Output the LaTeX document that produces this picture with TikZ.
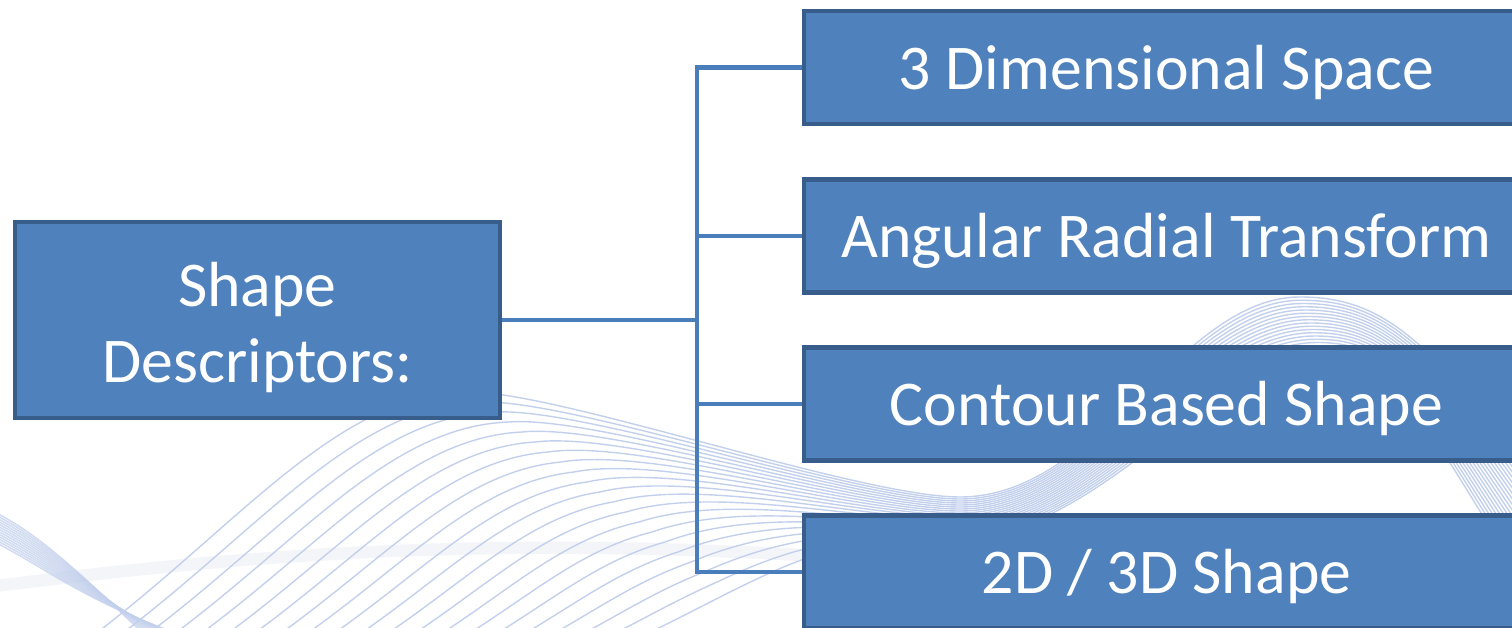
\documentclass[tikz,border=0pt]{standalone}
\usepackage{fontspec}
\setmainfont{Carlito}
\definecolor{boxfill}{HTML}{4F81BD}
\definecolor{boxline}{HTML}{385D8A}
\definecolor{linkcol}{HTML}{4A7EBB}
\definecolor{wavecol}{HTML}{C3D0EC}
\definecolor{hazecol}{HTML}{F3F5F9}
\tikzset{
  topic/.style={draw=boxline, fill=boxfill, line width=2.3pt, text=white,
    inner sep=0pt, minimum height=113*0.02cm, align=center,
    font=\fontsize{36.3}{43.2}\selectfont},
  leaf/.style={topic, minimum width=725*0.02cm, text height=31pt, text depth=6.3pt},
  rootbox/.style={topic, minimum width=485*0.02cm, minimum height=196*0.02cm},
  link/.style={draw=linkcol, line width=2.8pt},
  wave/.style={draw=wavecol, line width=0.8pt},
  band/.style={draw=wavecol, line width=0.9pt, opacity=0.75},
}
\begin{document}
\begin{tikzpicture}[x=0.02cm, y=-0.02cm]
\useasboundingbox (0,0) rectangle (1512,628);
\clip (0,0) rectangle (1512,628);

% soft haze strip behind the waves
\draw[hazecol, line width=7pt, line cap=round]
  (-20,588) .. controls (200,560) and (450,535) .. (800,555);

% fan of wave lines: rise from the lower left, pinch, hump, fall away
\foreach \s in {0,0.05,...,1.01} {
  \pgfmathsetmacro{\mx}{470+260*\s}
  \pgfmathsetmacro{\my}{392+200*\s}
  \pgfmathsetmacro{\ty}{497+40*\s}
  \pgfmathsetmacro{\hx}{1300+25*\s}
  \pgfmathsetmacro{\hy}{297+65*\s}
  \draw[wave]
    ({60+520*\s},660)
    .. controls ({230+410*\s},{540+100*\s}) and ({\mx-140+80*\s},{\my+30*\s}) .. (\mx,\my)
    .. controls ({\mx+90},{\my-45*\s}) and (860,\ty) .. (960,\ty)
    .. controls (1100,\ty) and ({\hx-120},\hy) .. (\hx,\hy)
    .. controls ({\hx+100-20*\s},\hy) and ({1450-30*\s},{360+60*\s}) .. ({1620-60*\s},{600+40*\s});
}

% dense ribbon in the lower left corner
\foreach \k in {0,...,12} {
  \draw[band] (-10,{510+2.5*\k}) .. controls (40,{533+2.5*\k}) and (90,{583+2*\k}) .. ({150+4*\k},640);
}

% anchor points
\coordinate (J) at (697,320);
\path (257.5,320) coordinate (rootc)
      (802,67.5) coordinate (w1) (802,236) coordinate (w2)
      (802,404) coordinate (w3) (802,572) coordinate (w4);

\node[rootbox] (root) at (rootc) {\rule{0pt}{34pt}Shape\\Descriptors:};
\node[leaf, anchor=west] (b1) at (w1) {3 Dimensional Space};
\node[leaf, anchor=west] (b2) at (w2) {Angular Radial Transform};
\node[leaf, anchor=west] (b3) at (w3) {Contour Based Shape};
\node[leaf, anchor=west] (b4) at (w4) {2D / 3D Shape};

% connectors
\draw[link] (root.east) -- (J);
\draw[link] (b1.west) -| (J) |- (b4.west);
\draw[link] (J |- b2.west) -- (b2.west);
\draw[link] (J |- b3.west) -- (b3.west);

% boxes again on top of the connector ends
\node[rootbox] at (root) {\rule{0pt}{34pt}Shape\\Descriptors:};
\node[leaf] at (b1) {3 Dimensional Space};
\node[leaf] at (b2) {Angular Radial Transform};
\node[leaf] at (b3) {Contour Based Shape};
\node[leaf] at (b4) {2D / 3D Shape};
\end{tikzpicture}
\end{document}
